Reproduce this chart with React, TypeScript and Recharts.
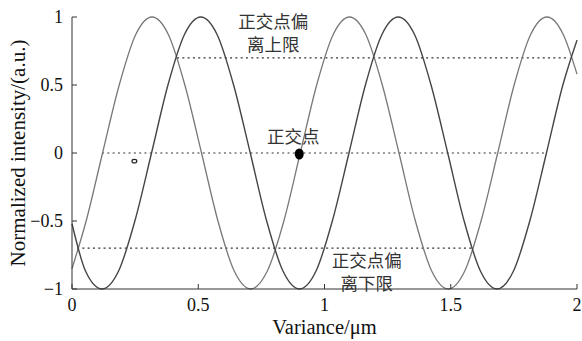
import { ComposedChart, Line, XAxis, YAxis, ReferenceLine, ReferenceDot } from 'recharts';

// gray curve (lighter)
const grayX = [0, 0.056, 0.121, 0.187, 0.252, 0.317, 0.382, 0.447, 0.513, 0.578, 0.643, 0.708, 0.773, 0.839, 0.904, 0.969, 1.034, 1.099, 1.164, 1.229, 1.295, 1.36, 1.425, 1.49, 1.555, 1.62, 1.686, 1.751, 1.816, 1.881, 1.946, 2];
const grayY = [-0.85, -0.5, 0, 0.5, 0.87, 1, 0.87, 0.5, 0, -0.5, -0.87, -1, -0.87, -0.5, 0, 0.5, 0.87, 1, 0.87, 0.5, 0, -0.5, -0.87, -1, -0.87, -0.5, 0, 0.5, 0.87, 1, 0.87, 0.58];

// dark curve
const darkX = [0, 0.054, 0.119, 0.184, 0.249, 0.315, 0.38, 0.445, 0.51, 0.575, 0.64, 0.706, 0.771, 0.836, 0.901, 0.966, 1.031, 1.097, 1.162, 1.227, 1.292, 1.357, 1.422, 1.488, 1.553, 1.618, 1.683, 1.748, 1.813, 1.879, 1.944, 2];
const darkY = [-0.52, -0.87, -1, -0.87, -0.5, 0, 0.5, 0.87, 1, 0.87, 0.5, 0, -0.5, -0.87, -1, -0.87, -0.5, 0, 0.5, 0.87, 1, 0.87, 0.5, 0, -0.5, -0.87, -1, -0.87, -0.5, 0, 0.5, 0.83];

// dotted guide levels
const guideLevel = [0.7, 0, -0.7];
const guideFrom = [0.416, 0.119, 0.02];
const guideTo = [1.97, 1.881, 1.584];

const xTicks = [0, 0.5, 1, 1.5, 2];
const yTicks = [-1, -0.5, 0, 0.5, 1];

// annotation lines, each anchored at its own data point
const noteText = ['正交点偏', '离上限', '正交点', '正交点偏', '离下限'];
const noteX = [0.797, 0.797, 0.876, 1.167, 1.167];
const noteY = [0.97, 0.8, 0.118, -0.79, -0.96];

const grayData = grayX.map((x, i) => ({ x, y: grayY[i] }));
const darkData = darkX.map((x, i) => ({ x, y: darkY[i] }));

const SERIF = '"Liberation Serif", "Times New Roman", serif';
const CJK = '"Liberation Serif", "Noto Sans CJK SC", sans-serif';
const fmt = (v: number) => String(v).replace('-', '\u2212');

export default function App() {
  return (
    <div style={{ position: 'absolute', left: 0, top: 0, background: '#fff' }}>
      <ComposedChart width={582} height={341} margin={{ top: 17, right: 5, left: 0, bottom: 0 }}>
        <XAxis
          type="number"
          dataKey="x"
          domain={[0, 2]}
          ticks={xTicks}
          tickFormatter={fmt}
          height={52}
          stroke="#333"
          tickSize={-5}
          tickMargin={14}
          tick={{ fill: '#111', fontSize: 18, fontFamily: SERIF }}
          label={{ value: 'Variance/\u03bcm', position: 'insideBottom', offset: 7, fill: '#111', fontSize: 20.5, fontFamily: SERIF }}
          allowDuplicatedCategory={false}
        />
        <YAxis
          type="number"
          domain={[-1, 1]}
          ticks={yTicks}
          tickFormatter={fmt}
          width={72}
          stroke="#333"
          tickSize={-5}
          tickMargin={14}
          tick={{ fill: '#111', fontSize: 18, fontFamily: SERIF }}
          label={{ value: 'Normalized intensity/(a.u.)', angle: -90, position: 'insideLeft', offset: 18, textAnchor: 'middle', fill: '#111', fontSize: 21, fontFamily: SERIF }}
        />
        {guideLevel.map((lv, i) => (
          <ReferenceLine
            key={i}
            segment={[{ x: guideFrom[i], y: lv }, { x: guideTo[i], y: lv }]}
            stroke="#333"
            strokeWidth={1.2}
            strokeDasharray="2 3.3"
          />
        ))}
        <Line data={grayData} dataKey="y" type="monotone" stroke="#787878" strokeWidth={1.3} dot={false} isAnimationActive={false} />
        <Line data={darkData} dataKey="y" type="monotone" stroke="#454545" strokeWidth={1.4} dot={false} isAnimationActive={false} />
        <ReferenceDot x={0.9} y={0} shape={(p: any) => <ellipse cx={p.cx} cy={p.cy + 1} rx={4.5} ry={5.5} fill="#000" />} />
        <ReferenceDot x={0.247} y={-0.06} shape={(p: any) => <ellipse cx={p.cx} cy={p.cy} rx={2.4} ry={1.8} fill="none" stroke="#222" strokeWidth={1.2} />} />
        {noteText.map((t, i) => (
          <ReferenceDot
            key={i}
            x={noteX[i]}
            y={noteY[i]}
            ifOverflow="visible"
            shape={(p: any) => (
              <text x={p.cx} y={p.cy + 6.5} textAnchor="middle" fontFamily={CJK} fontSize={17.5} fill="#333">
                {t}
              </text>
            )}
          />
        ))}
      </ComposedChart>
    </div>
  );
}
